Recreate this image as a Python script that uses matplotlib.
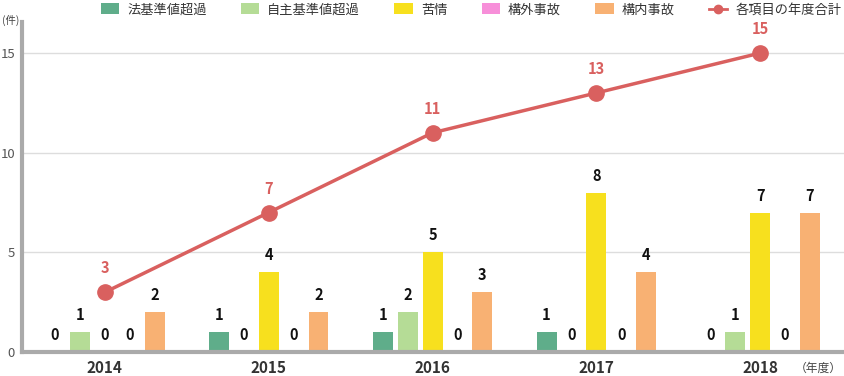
import numpy as np
import matplotlib.pyplot as plt
from matplotlib.lines import Line2D
from matplotlib.patches import Patch

plt.rcParams['font.family'] = ['Noto Sans CJK JP', 'DejaVu Sans']

years = ["2014", "2015", "2016", "2017", "2018"]
categories = ["法基準値超過", "自主基準値超過", "苦情", "構外事故", "構内事故"]
colors = ["#5fad8a", "#b5dc96", "#f7e01e", "#f78fd9", "#f8b173"]

hou = [0, 1, 1, 1, 0]
jishu = [1, 0, 2, 0, 1]
kujou = [0, 4, 5, 8, 7]
kougai = [0, 0, 0, 0, 0]
kounai = [2, 2, 3, 4, 7]
totals = [3, 7, 11, 13, 15]
total_label = "各項目の年度合計"

series = [hou, jishu, kujou, kougai, kounai]

fig = plt.figure(figsize=(8.44, 3.76), dpi=100)
ax = fig.add_axes([22 / 844, 1 - 352 / 376, 1 - 22 / 844, (352 - 22) / 376])

x = np.arange(len(years))
w = 0.122
step = 0.152
for i, (vals, c) in enumerate(zip(series, colors)):
    xs = x + (i - 2) * step
    ax.bar(xs, vals, width=w, color=c, zorder=2)
    for xi, v in zip(xs, vals):
        ax.text(xi, v + 0.45, str(v), ha="center", va="bottom",
                fontsize=10.5, fontweight="bold", color="#111111")

line_c = "#d9605f"
ax.plot(x, totals, color=line_c, lw=2.5, marker="o", ms=11, zorder=3)
for xi, v in zip(x, totals):
    ax.text(xi, v + 0.8, str(v), ha="center", va="bottom",
            fontsize=10.5, fontweight="bold", color=line_c)

ax.set_xlim(-0.506, 4.512)
ax.set_ylim(0, 16.56)
ax.set_yticks([0, 5, 10, 15])
ax.set_yticklabels(["0", "5", "10", "15"], fontsize=9.5, color="#555555")
ax.set_xticks(x)
ax.set_xticklabels(years, fontsize=11, fontweight="bold", color="#333333")
ax.tick_params(axis="both", length=0)
ax.tick_params(axis="x", pad=6)
ax.tick_params(axis="y", pad=5)
ax.grid(axis="y", color="#dddddd", lw=1, zorder=0)
for s in ["top", "right"]:
    ax.spines[s].set_visible(False)
for s in ["left", "bottom"]:
    ax.spines[s].set_color("#aaaaaa")
    ax.spines[s].set_linewidth(3)

fig.text(0.002, 1 - 20 / 376, "(件)", fontsize=7.5, color="#444444", ha="left", va="center")
fig.text(0.997, 1 - 368 / 376, "（年度）", fontsize=8.5, color="#444444", ha="right", va="center")

handles = [Patch(facecolor=c, label=l) for c, l in zip(colors, categories)]
handles.append(Line2D([0], [0], color=line_c, lw=2, marker="o", ms=6, label=total_label))
fig.legend(handles=handles, loc="center right", bbox_to_anchor=(1.0, 1 - 10 / 376), ncol=6,
           frameon=False, fontsize=9.5, handlelength=1.4, handleheight=0.9,
           columnspacing=2.6, handletextpad=0.6, labelcolor="#333333",
           borderpad=0, borderaxespad=0.2)

fig.savefig("out.png", dpi=100)
